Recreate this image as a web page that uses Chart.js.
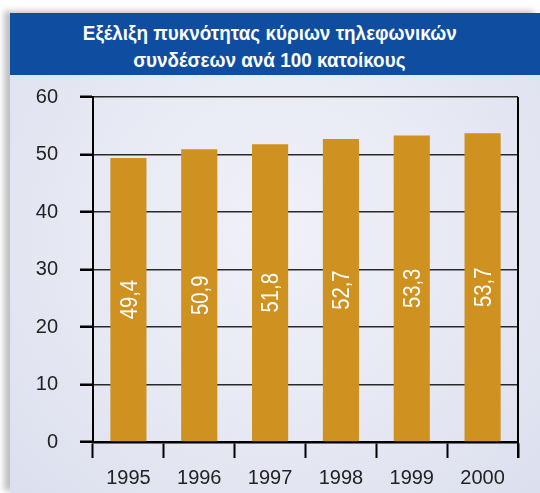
<!DOCTYPE html>
<html>
<head>
<meta charset="utf-8">
<script src="https://cdn.jsdelivr.net/npm/chart.js@4.4.1/dist/chart.umd.min.js"></script>
<style>
  html, body { margin: 0; padding: 0; background: #fff; }
  #wrap { position: relative; width: 540px; height: 493px; overflow: hidden; }
  #panel {
    position: absolute; left: 10px; top: 13px; width: 530px; height: 480px;
    background: radial-gradient(ellipse at 50% 45%, #f0f1f9 0%, #e6e8f3 55%, #dcdfee 100%);
    box-shadow: -6px -2px 6px rgba(0,0,0,0.25);
  }
  #header {
    position: absolute; left: 0; top: 0; width: 530px; height: 62px;
    background: #0e4d9f; color: #fff; text-align: center;
    font: bold 21px "Liberation Sans", Arial, sans-serif;
    line-height: 27px; padding: 6px 11px 0 0; box-sizing: border-box;
  }
  #header span { display: inline-block; white-space: nowrap; transform-origin: 50% 50%; }
  canvas { position: absolute; left: 0; top: 0; }
</style>
</head>
<body>
<div id="wrap">
  <div id="panel">
    <div id="header"><span id="t1">Εξέλιξη πυκνότητας κύριων τηλεφωνικών</span><br><span id="t2">συνδέσεων ανά 100 κατοίκους</span></div>
  </div>
  <canvas id="chart" width="540" height="493"></canvas>
</div>
<script>
"use strict";
// data
const years = ["1995", "1996", "1997", "1998", "1999", "2000"];
const density = [49.4, 50.9, 51.8, 52.7, 53.3, 53.7];
const yTicks = [0, 10, 20, 30, 40, 50, 60];

const FONT = '"Liberation Sans", Arial, sans-serif';

// condensed look for the title (the original uses a narrow face)
["t1", "t2"].forEach(id => {
    document.getElementById(id).style.transform = "scaleX(0.9)";
});

// value written vertically inside each bar
const barLabels = {
    id: "barLabels",
    afterDatasetsDraw(chart) {
        const ctx = chart.ctx;
        const meta = chart.getDatasetMeta(0);
        ctx.save();
        ctx.fillStyle = "#fff";
        ctx.font = "23px " + FONT;
        ctx.textAlign = "center";
        ctx.textBaseline = "middle";
        meta.data.forEach((bar, i) => {
            const txt = density[i].toFixed(1).replace(".", ",");
            const yMid = (bar.y + bar.base) / 2;
            ctx.save();
            ctx.translate(bar.x + 1, yMid);
            ctx.rotate(-Math.PI / 2);
            ctx.scale(0.88, 1);
            ctx.fillText(txt, 0, 1);
            ctx.restore();
        });
        ctx.restore();
    }
};

// right frame line of the plot
const rightFrame = {
    id: "rightFrame",
    afterDraw(chart) {
        const a = chart.chartArea;
        const ctx = chart.ctx;
        ctx.save();
        ctx.strokeStyle = "#000";
        ctx.lineWidth = 2;
        ctx.beginPath();
        ctx.moveTo(a.right, a.top);
        ctx.lineTo(a.right, a.bottom + 16);
        ctx.stroke();
        ctx.restore();
    }
};

const canvas = document.getElementById("chart");
const ctx = canvas.getContext("2d");
new Chart(ctx, {
    type: "bar",
    data: {
        labels: years,
        datasets: [{
            data: density,
            backgroundColor: "#cf9120",
            barPercentage: 0.51,
            categoryPercentage: 1.0
        }]
    },
    options: {
        responsive: false,
        animation: false,
        layout: { padding: { left: 0, top: 97, right: 22, bottom: 0 } },
        plugins: { legend: { display: false }, tooltip: { enabled: false } },
        scales: {
            x: {
                grid: {
                    offset: true,
                    drawOnChartArea: false,
                    tickLength: 16,
                    tickWidth: 2,
                    tickColor: "#000"
                },
                border: { color: "#000", width: 2.5 },
                ticks: { color: "#222", font: { family: FONT, size: 20 }, padding: 8, maxRotation: 0 },
                afterFit(scale) { scale.height = 51; }
            },
            y: {
                min: 0,
                max: 60,
                afterBuildTicks(scale) { scale.ticks = yTicks.map(v => ({ value: v })); },
                grid: {
                    color: "#2a2a2a",
                    lineWidth: 1.5,
                    tickLength: 13,
                    tickWidth: 2.5,
                    tickColor: "#000"
                },
                border: { color: "#000", width: 2 },
                ticks: { color: "#222", font: { family: FONT, size: 20 }, padding: 22 },
                afterFit(scale) { scale.width = 93; }
            }
        }
    },
    plugins: [barLabels, rightFrame]
});
</script>
</body>
</html>
